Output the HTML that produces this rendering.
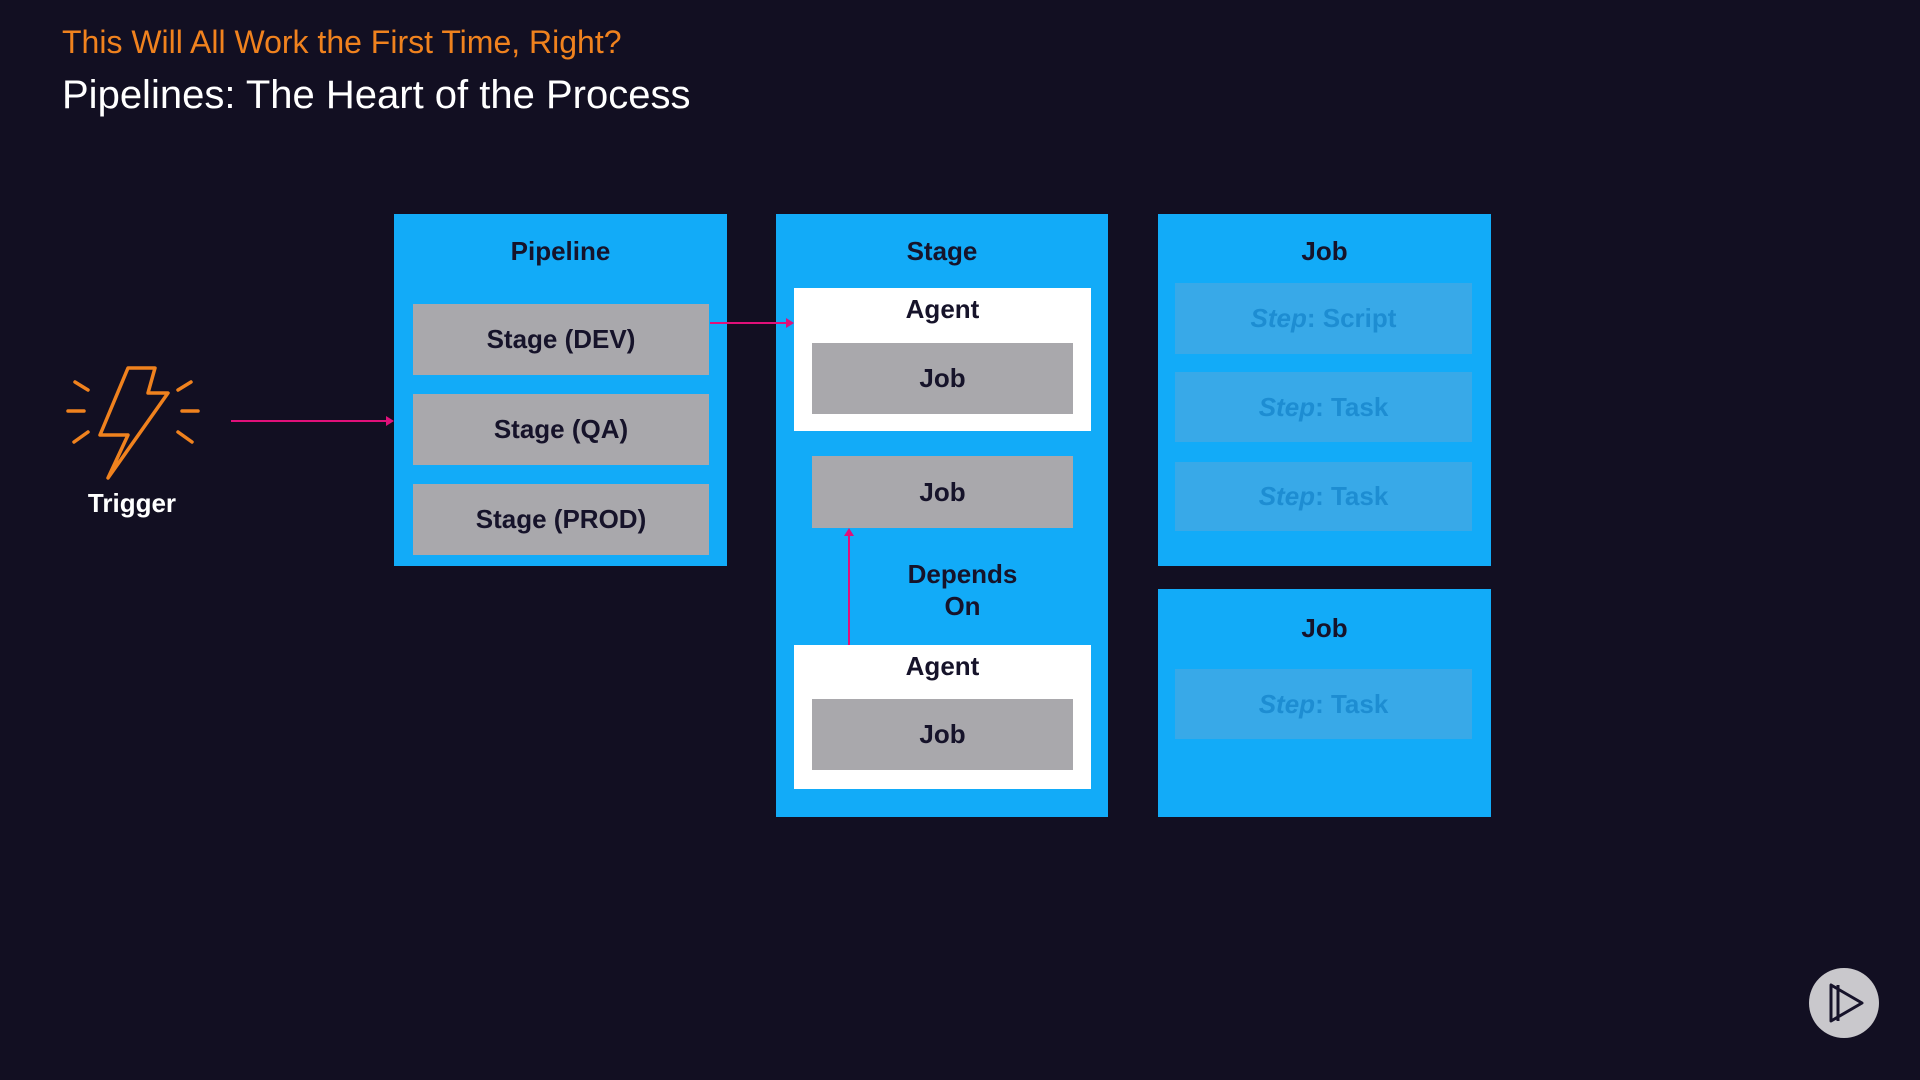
<!DOCTYPE html>
<html><head><meta charset="utf-8"><style>
*{margin:0;padding:0;box-sizing:border-box}
body{width:1920px;height:1080px;background:#120f22;position:relative;overflow:hidden;font-family:"Liberation Sans",sans-serif}
.a{position:absolute}
.blue{background:#12abf8}
.gray{background:#a9a8ac;display:flex;align-items:center;justify-content:center;font-weight:bold;font-size:26px;color:#16132a}
.white{background:#fff}
.lbl{position:absolute;left:0;right:0;text-align:center;font-weight:bold;font-size:26px;color:#16132a}
.step{background:#38a9e8;display:flex;align-items:center;justify-content:center;font-size:26px;color:#1d8dd2;font-weight:bold}
.step i{font-style:italic}
</style></head><body>
<div class="a" style="left:62px;top:24px;font-size:32px;color:#f0821e">This Will All Work the First Time, Right?</div>
<div class="a" style="left:62px;top:73px;font-size:40px;color:#fff">Pipelines: The Heart of the Process</div>

<svg class="a" style="left:60px;top:360px" width="150" height="125" viewBox="0 0 150 125">
<g stroke="#f0821e" stroke-width="3.5" fill="none" stroke-linecap="round" stroke-linejoin="round">
<path d="M95 8 L68 8 L40 75 L68 75 L48 118 L108 33 L88 33 Z"/>
<path d="M15 22 L28 30"/><path d="M8 51 L24 51"/><path d="M14 82 L28 72"/>
<path d="M131 22 L118 30"/><path d="M138 51 L122 51"/><path d="M132 82 L118 72"/>
</g></svg>
<div class="a" style="left:72px;top:488px;width:120px;text-align:center;font-weight:bold;font-size:26px;color:#fff">Trigger</div>

<div class="a blue" style="left:394px;top:214px;width:333px;height:352px"><div class="lbl" style="top:22px">Pipeline</div></div>
<div class="a gray" style="left:413px;top:304px;width:296px;height:71px">Stage (DEV)</div>
<div class="a gray" style="left:413px;top:394px;width:296px;height:71px">Stage (QA)</div>
<div class="a gray" style="left:413px;top:484px;width:296px;height:71px">Stage (PROD)</div>

<div class="a blue" style="left:776px;top:214px;width:332px;height:603px"><div class="lbl" style="top:22px">Stage</div></div>
<div class="a white" style="left:794px;top:288px;width:297px;height:143px"><div class="lbl" style="top:6px">Agent</div></div>
<div class="a gray" style="left:812px;top:343px;width:261px;height:71px">Job</div>
<div class="a gray" style="left:812px;top:456px;width:261px;height:72px">Job</div>
<div class="a" style="left:880px;top:558px;width:165px;text-align:center;font-weight:bold;font-size:26px;line-height:32px;color:#16132a">Depends<br>On</div>
<div class="a white" style="left:794px;top:645px;width:297px;height:144px"><div class="lbl" style="top:6px">Agent</div></div>
<div class="a gray" style="left:812px;top:699px;width:261px;height:71px">Job</div>

<div class="a blue" style="left:1158px;top:214px;width:333px;height:352px"><div class="lbl" style="top:22px">Job</div></div>
<div class="a step" style="left:1175px;top:283px;width:297px;height:71px"><span><i>Step</i>: Script</span></div>
<div class="a step" style="left:1175px;top:372px;width:297px;height:70px"><span><i>Step</i>: Task</span></div>
<div class="a step" style="left:1175px;top:462px;width:297px;height:69px"><span><i>Step</i>: Task</span></div>
<div class="a blue" style="left:1158px;top:589px;width:333px;height:228px"><div class="lbl" style="top:24px">Job</div></div>
<div class="a step" style="left:1175px;top:669px;width:297px;height:70px"><span><i>Step</i>: Task</span></div>

<svg class="a" style="left:0;top:0" width="1920" height="1080">
<g stroke="#e0107a" stroke-width="2" fill="#e0107a">
<line x1="231" y1="421" x2="388" y2="421"/><polygon points="394,421 386,416 386,426" stroke="none"/>
<line x1="710" y1="323" x2="788" y2="323"/><polygon points="794,323 786,318 786,328" stroke="none"/>
<line x1="849" y1="645" x2="849" y2="534"/><polygon points="849,528 844,536 854,536" stroke="none"/>
</g>
<circle cx="1844" cy="1003" r="35" fill="#c9c8cc"/>
<path d="M1831 985 L1831 1021 L1862 1003 Z M1838 985 L1838 1021" fill="none" stroke="#16132a" stroke-width="3" stroke-linejoin="round"/>
</svg>
</body></html>
